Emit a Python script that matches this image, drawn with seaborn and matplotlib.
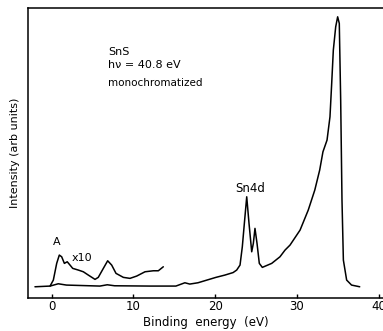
import numpy as np
import pandas as pd
import matplotlib
matplotlib.use("Agg")
import matplotlib.pyplot as plt
import seaborn as sns

# main spectrum (binding energy in eV, intensity in arb units)
main_energy = [-2.05, -0.2, 0.8, 1.8, 5.9, 6.8, 7.7, 12.0, 15.2, 16.3, 16.9, 17.9,
               20.1, 21.2, 22.2, 22.64, 23.05, 23.33, 23.58, 23.87, 24.15, 24.48,
               24.68, 24.88, 25.13, 25.41, 25.78, 26.93, 27.94, 28.56, 29.17, 30.4,
               31.4, 32.2, 32.8, 33.2, 33.7, 34.06, 34.27, 34.47, 34.76, 35.0, 35.2,
               35.37, 35.53, 35.7, 36.1, 36.7, 37.7]
main_intensity = [9.3, 10, 12.3, 11, 10, 11.3, 10.3, 10, 10, 13.3, 12, 13.3,
                  18.7, 21, 23.5, 26, 31, 49.3, 72.7, 99.3, 72.7, 44.3,
                  52.7, 67.7, 52.7, 32.7, 28.7, 32.7, 39.3, 46, 51, 66,
                  86, 106, 126, 144.3, 156, 179.3, 212.7, 246, 269.3, 279.3, 272.7,
                  196, 96, 36, 16, 11, 9.3]

# valence band magnified x10
x10_energy = [-0.2, 0.2, 0.61, 0.93, 1.22, 1.55, 1.9, 2.24, 2.57, 3.26, 3.87, 4.48,
              5.3, 5.7, 6.32, 6.85, 7.34, 7.87, 8.77, 9.58, 10.4, 11.42, 12.44,
              13.05, 13.66]
x10_intensity = [10, 16, 32.7, 41, 39.3, 32.7, 34.3, 31, 27.7, 26, 24.3, 21,
                 16.7, 18.7, 27.7, 35.3, 31, 22.7, 18.7, 17.7, 20, 24.3, 25.3,
                 25.3, 29.3]

xticks = [0, 10, 20, 30, 40]

main_df = pd.DataFrame({"energy": main_energy, "intensity": main_intensity})
x10_df = pd.DataFrame({"energy": x10_energy, "intensity": x10_intensity})

sns.set_style("ticks")
plt.rcParams["font.family"] = ["DejaVu Sans"]
plt.rcParams["text.color"] = "black"
plt.rcParams["axes.labelcolor"] = "black"
plt.rcParams["xtick.color"] = "black"

fig = plt.figure(figsize=(3.83, 3.31), dpi=100)
ax = fig.add_axes([0.074, 0.101, 0.926, 0.876])

sns.lineplot(data=main_df, x="energy", y="intensity", color="black", lw=1.1, ax=ax)
sns.lineplot(data=x10_df, x="energy", y="intensity", color="black", lw=1.1, ax=ax)

ax.set_xlim(-2.86, 40.55)
ax.set_ylim(-1.5, 288.5)
ax.set_xticks(xticks)
ax.set_yticks([])
ax.tick_params(axis="x", direction="in", length=3, width=1, labelsize=8.5, pad=2)
for s in ["left", "top", "bottom"]:
    ax.spines[s].set_linewidth(1.1)
    ax.spines[s].set_color("black")
ax.spines["right"].set_visible(False)

ax.set_xlabel("Binding  energy  (eV)", fontsize=8.5, labelpad=2)
ax.set_ylabel("Intensity (arb units)", fontsize=8, labelpad=6)

ax.text(6.9, 244, "SnS", fontsize=8, va="center")
ax.text(6.9, 231, "hν = 40.8 eV", fontsize=8, va="center")
ax.text(6.9, 213, "monochromatized", fontsize=7.5, va="center")
ax.text(0.6, 54, "A", fontsize=8, ha="center", va="center")
ax.text(2.5, 38, "x10", fontsize=8, va="center")
ax.text(24.3, 108, "Sn4d", fontsize=8.5, ha="center", va="center")

fig.savefig("out.png", dpi=100)
